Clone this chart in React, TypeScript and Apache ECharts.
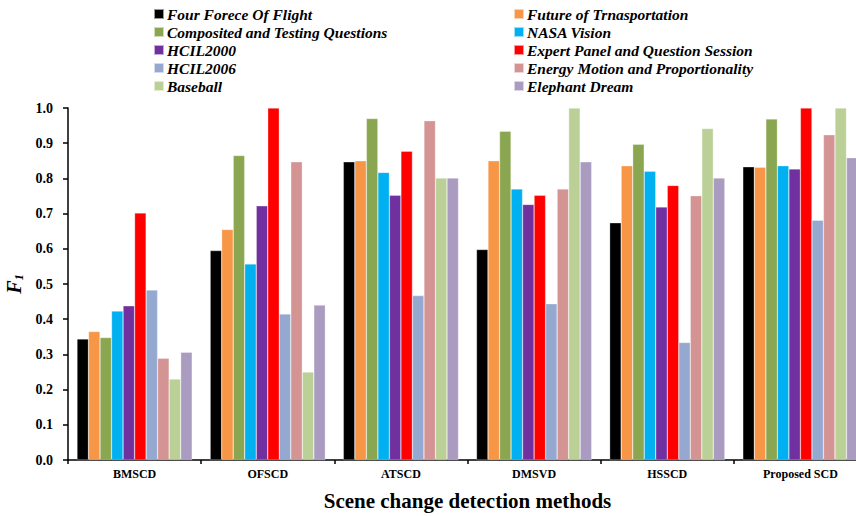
import React, { useEffect, useRef } from "react";
import * as echarts from "echarts";

const categories = ["BMSCD", "OFSCD", "ATSCD", "DMSVD", "HSSCD", "Proposed SCD"];

const seriesNames = [
  "Four Forece Of Flight",
  "Future of Trnasportation",
  "Composited and Testing Questions",
  "NASA Vision",
  "HCIL2000",
  "Expert Panel and Question Session",
  "HCIL2006",
  "Energy Motion and Proportionality",
  "Baseball",
  "Elephant Dream",
];

const colors = [
  "#000000",
  "#F79646",
  "#8BA650",
  "#00B0F0",
  "#7030A0",
  "#FF0000",
  "#95A9D0",
  "#D49494",
  "#BBD097",
  "#A99CC0",
];

const fourForce = [0.344, 0.595, 0.847, 0.598, 0.674, 0.833];
const futureTransport = [0.365, 0.655, 0.85, 0.85, 0.836, 0.832];
const composited = [0.348, 0.865, 0.97, 0.934, 0.897, 0.969];
const nasaVision = [0.423, 0.557, 0.817, 0.77, 0.82, 0.836];
const hcil2000 = [0.438, 0.722, 0.752, 0.726, 0.719, 0.827];
const expertPanel = [0.702, 1.0, 0.877, 0.752, 0.78, 1.0];
const hcil2006 = [0.483, 0.415, 0.467, 0.444, 0.334, 0.681];
const energyMotion = [0.289, 0.847, 0.964, 0.77, 0.751, 0.924];
const baseball = [0.23, 0.25, 0.801, 1.0, 0.942, 1.0];
const elephantDream = [0.306, 0.44, 0.801, 0.847, 0.801, 0.859];

const seriesValues = [
  fourForce,
  futureTransport,
  composited,
  nasaVision,
  hcil2000,
  expertPanel,
  hcil2006,
  energyMotion,
  baseball,
  elephantDream,
];

const yTicks = [0, 0.1, 0.2, 0.3, 0.4, 0.5, 0.6, 0.7, 0.8, 0.9, 1.0];

const FONT = "'Liberation Serif', 'Times New Roman', serif";

export default function App() {
  const ref = useRef<HTMLDivElement>(null);

  useEffect(() => {
    if (!ref.current) return;
    const chart = echarts.init(ref.current, undefined, { renderer: "svg" });

    const legends = seriesNames.map((name, i) => ({
      data: [name],
      left: i % 2 === 0 ? 153 : 513,
      top: 6 + Math.floor(i / 2) * 18,
      icon: "rect",
      itemWidth: 10,
      itemHeight: 10,
      itemGap: 4,
      padding: 0,
      selectedMode: false,
      textStyle: {
        fontFamily: FONT,
        fontWeight: "bold",
        fontStyle: "italic",
        fontSize: 15.5,
        color: "#000",
        padding: [0, 0, 0, -2],
      },
    }));

    chart.setOption({
      animation: false,
      backgroundColor: "#fff",
      legend: legends,
      grid: {
        left: 68,
        top: 108,
        width: 799,
        bottom: 56,
        containLabel: false,
        outerBoundsMode: "none",
      },
      xAxis: {
        type: "category",
        data: categories,
        name: "Scene change detection methods",
        nameLocation: "middle",
        nameGap: 30,
        nameTextStyle: { fontFamily: FONT, fontWeight: "bold", fontSize: 21, color: "#000" },
        axisLine: { lineStyle: { color: "#000", width: 1.5 } },
        axisTick: { show: true, length: 4, lineStyle: { color: "#000", width: 1.5 } },
        axisLabel: { fontFamily: FONT, fontWeight: "bold", fontSize: 12, color: "#000", margin: 8 },
      },
      yAxis: {
        type: "value",
        min: 0,
        max: 1,
        interval: 0.1,
        name: "{f|F}{s|1}",
        nameLocation: "middle",
        nameRotate: 90,
        nameGap: 43,
        nameTextStyle: {
          rich: {
            f: { fontFamily: FONT, fontWeight: "bold", fontStyle: "italic", fontSize: 20, color: "#000" },
            s: { fontFamily: FONT, fontWeight: "bold", fontStyle: "italic", fontSize: 12, color: "#000", padding: [9, 0, 0, 0] },
          },
        },
        splitLine: { show: false },
        axisLine: { show: true, lineStyle: { color: "#000", width: 1.5 } },
        axisTick: { show: true, length: 5, lineStyle: { color: "#000", width: 1.5 } },
        axisLabel: {
          fontFamily: FONT,
          fontWeight: "bold",
          fontSize: 14,
          color: "#000",
          margin: 15,
          formatter: (v: number) => {
            const t = yTicks.find((x) => Math.abs(x - v) < 1e-6);
            return (t ?? v).toFixed(1);
          },
        },
      },
      series: seriesNames.map((name, i) => ({
        name,
        type: "bar",
        data: seriesValues[i],
        barGap: "0%",
        barCategoryGap: "13.5%",
        itemStyle: { color: colors[i], borderColor: "rgba(255,255,255,0.6)", borderWidth: 0.5 },
      })),
    });

    return () => chart.dispose();
  }, []);

  return (
    <div
      ref={ref}
      style={{ position: "absolute", left: 0, top: 0, width: 856, height: 516 }}
    />
  );
}
